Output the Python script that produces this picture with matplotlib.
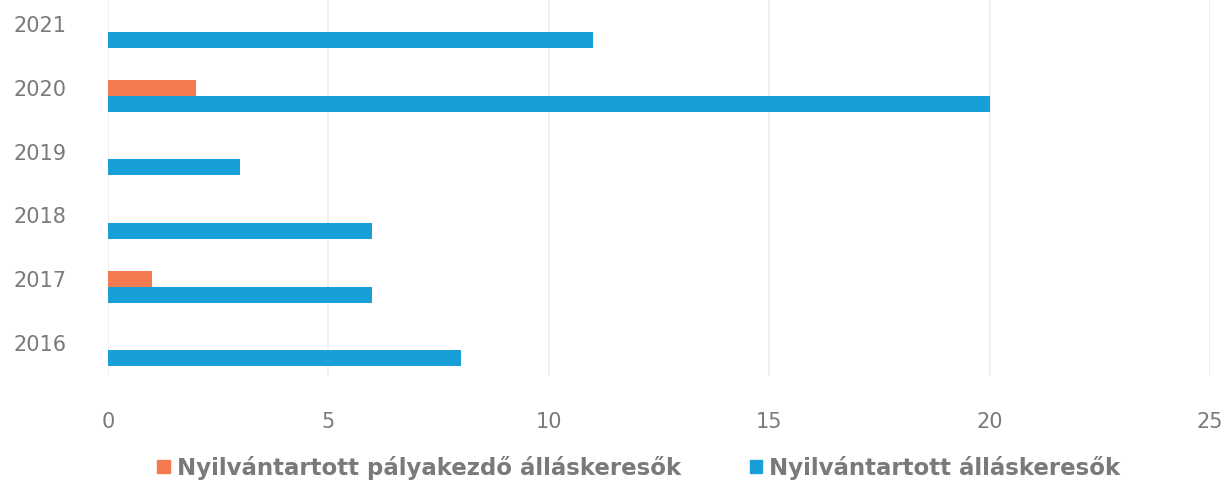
import matplotlib
matplotlib.use("Agg")
import matplotlib.pyplot as plt
import numpy as np
from matplotlib.patches import Patch

years = ["2016", "2017", "2018", "2019", "2020", "2021"]
palyakezdo = [0, 1, 0, 0, 2, 0]
allaskeresok = [8, 6, 6, 3, 20, 11]
series_names = ["Nyilvántartott pályakezdő álláskeresők", "Nyilvántartott álláskeresők"]
xticks = [0, 5, 10, 15, 20, 25]

orange = "#F47B50"
blue = "#199FD8"
gray = "#7A7A7A"

plt.rcParams['font.family'] = ['DejaVu Sans']

fig = plt.figure(figsize=(12.31, 4.82), dpi=100)
ax = fig.add_axes([0.0877, 0.22, 0.8953, 0.78])

y = np.arange(len(years))
h = 0.25
ax.barh(y + h / 2, palyakezdo, height=h, color=orange, zorder=3)
ax.barh(y - h / 2, allaskeresok, height=h, color=blue, zorder=3)

ax.set_xlim(0, 25)
ax.set_ylim(-0.4, 5.5)
ax.set_xticks(xticks)
ax.set_yticks(y + 0.12)
ax.set_yticklabels(years)
ax.grid(axis='x', color='#EEEEEE', linewidth=1.2, zorder=0)
for s in ax.spines.values():
    s.set_visible(False)
ax.tick_params(axis='x', length=0, pad=26, labelsize=15, labelcolor=gray)
ax.tick_params(axis='y', length=0, pad=30, labelsize=15, labelcolor=gray)

handles = [Patch(color=orange), Patch(color=blue)]
fig.legend(handles, series_names, loc='center', bbox_to_anchor=(0.519, 0.03),
           ncol=2, frameon=False, labelcolor=gray,
           prop={'size': 16.5, 'weight': 'bold'},
           handlelength=0.55, handleheight=0.55, handletextpad=0.3, columnspacing=3.0)

fig.savefig("out.png", dpi=100, facecolor="white")
